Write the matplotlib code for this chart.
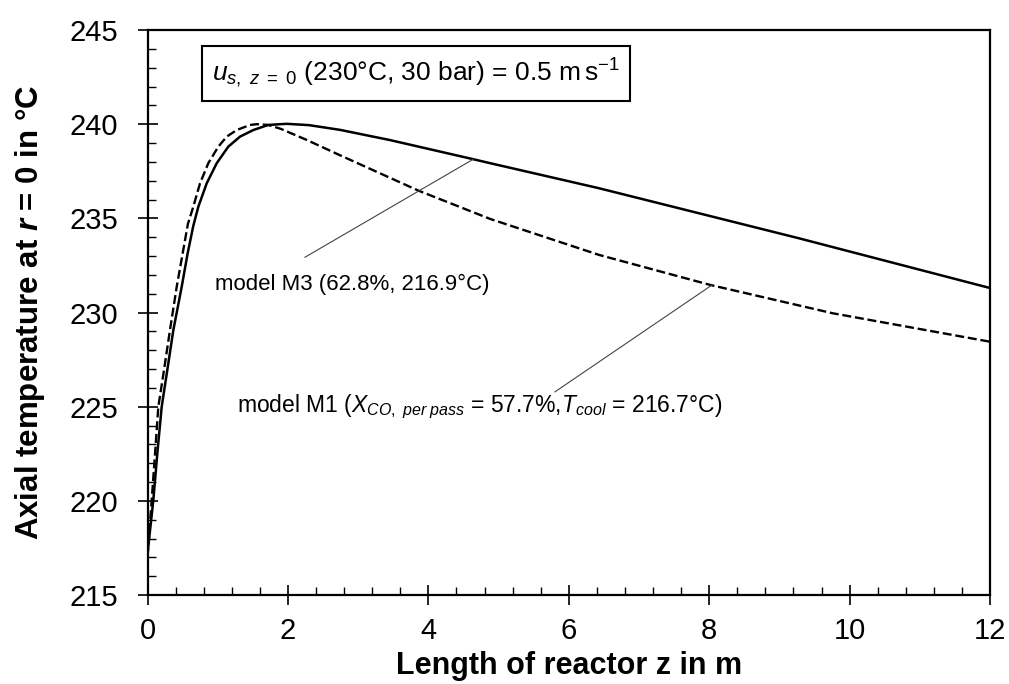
import matplotlib
matplotlib.use("Agg")
import matplotlib.pyplot as plt
from matplotlib.ticker import MultipleLocator

plt.rcParams['font.family'] = ['Liberation Sans', 'DejaVu Sans']
plt.rcParams['mathtext.fontset'] = 'custom'
plt.rcParams['mathtext.rm'] = 'Liberation Sans'
plt.rcParams['mathtext.it'] = 'Liberation Sans:italic'
plt.rcParams['mathtext.bf'] = 'Liberation Sans:bold'
plt.rcParams['mathtext.bfit'] = 'Liberation Sans:italic:bold'

# Model M3 (solid)
z_m3 = [0.0, 0.083, 0.14, 0.202, 0.282, 0.368, 0.487, 0.572, 0.652, 0.724, 0.843,
        0.986, 1.151, 1.318, 1.507, 1.72, 1.98, 2.3, 2.74, 3.45, 4.64, 4.88,
        6.43, 9.28, 12.0]
T_m3 = [217.2, 220.05, 222.53, 225.0, 226.95, 229.07, 231.37, 233.15, 234.6, 235.62,
        236.86, 237.93, 238.81, 239.34, 239.69, 239.96, 240.02, 239.95, 239.7, 239.16,
        238.14, 237.93, 236.6, 233.94, 231.3]

# Model M1 (dashed)
z_m1 = [0.0, 0.06, 0.107, 0.154, 0.235, 0.32, 0.416, 0.501, 0.575, 0.652, 0.748,
        0.866, 1.009, 1.128, 1.271, 1.46, 1.556, 1.72, 1.9, 2.27, 2.73, 3.86, 4.88,
        6.43, 8.02, 9.76, 12.0]
T_m1 = [217.0, 220.05, 222.5, 225.0, 226.95, 229.07, 231.37, 233.15, 234.7, 235.62,
        236.86, 237.93, 238.81, 239.34, 239.69, 239.96, 240.0, 239.96, 239.75, 239.16,
        238.37, 236.47, 234.97, 233.06, 231.46, 229.96, 228.45]

label_m3 = "model M3 (62.8%, 216.9°C)"
label_m1 = r"model M1 ($X_{CO,\ per\ pass}$ = 57.7%,$T_{cool}$ = 216.7°C)"
box_text = r"$u_{s,\ z\ {=}\ 0}$ (230°C, 30 bar) = 0.5 m$\,$s$^{\mathrm{−1}}$"
xlabel = "Length of reactor z in m"
ylabel = r"Axial temperature at $\mathbfit{r}$ = 0 in °C"

fig = plt.figure(figsize=(10.09, 6.84), dpi=100)
ax = fig.add_axes([0.1462, 0.1301, 0.9812 - 0.1462, 0.9561 - 0.1301])

ax.plot(z_m3, T_m3, color='black', lw=1.8, solid_joinstyle='round')
ax.plot(z_m1, T_m1, color='black', lw=1.7, linestyle=(0, (3.8, 1.6)))

ax.set_xlim(0, 12)
ax.set_ylim(215, 245)
ax.xaxis.set_major_locator(MultipleLocator(2))
ax.xaxis.set_minor_locator(MultipleLocator(0.4))
ax.yaxis.set_major_locator(MultipleLocator(5))
ax.yaxis.set_minor_locator(MultipleLocator(1))
ax.tick_params(which='major', direction='inout', length=14, width=1.2, labelsize=21,
               color='black')
ax.tick_params(axis='y', which='major', pad=14)
ax.tick_params(axis='x', which='major', pad=9)
ax.tick_params(which='minor', direction='in', length=6, width=1.0, color='black')
ax.tick_params(top=False, right=False, which='both')
for s in ax.spines.values():
    s.set_linewidth(1.6)

ax.set_xlabel(xlabel, fontsize=22, fontweight='bold', labelpad=4)
ax.set_ylabel(ylabel, fontsize=22.5, fontweight='bold', labelpad=16)

# annotations
ax.text(0.96, 231.5, label_m3, fontsize=16, ha='left', va='center')
ax.annotate("", xy=(4.64, 238.14), xytext=(2.24, 232.93),
            arrowprops=dict(arrowstyle='-', color='#444444', lw=0.8,
                            shrinkA=0, shrinkB=0))

ax.text(1.27, 225.0, label_m1, fontsize=16.5, ha='left', va='center')
ax.annotate("", xy=(8.04, 231.46), xytext=(5.80, 225.78),
            arrowprops=dict(arrowstyle='-', color='#444444', lw=0.8,
                            shrinkA=0, shrinkB=0))

ax.text(0.92, 242.7, box_text, fontsize=19, ha='left', va='center',
        bbox=dict(boxstyle='square,pad=0.4', facecolor='white', edgecolor='black', lw=1.5))

fig.savefig("out.png", dpi=100)
